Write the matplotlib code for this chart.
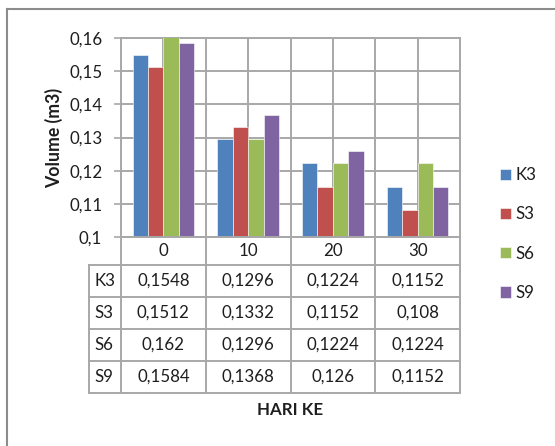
import matplotlib
matplotlib.use("Agg")
import matplotlib.pyplot as plt
from matplotlib.lines import Line2D
import numpy as np

# Data
days = ["0", "10", "20", "30"]
series_names = ["K3", "S3", "S6", "S9"]
k3 = [0.1548, 0.1296, 0.1224, 0.1152]
s3 = [0.1512, 0.1332, 0.1152, 0.108]
s6 = [0.162, 0.1296, 0.1224, 0.1224]
s9 = [0.1584, 0.1368, 0.126, 0.1152]
y_ticks = [0.10, 0.11, 0.12, 0.13, 0.14, 0.15, 0.16]

series = [k3, s3, s6, s9]
colors = ["#4F81BD", "#C0504D", "#9BBB59", "#8064A2"]
grid_c = "#A8A8A8"
txt_c = "#1E1E1E"
fs = 12.2
plt.rcParams["font.family"] = ["Lato", "DejaVu Sans"]

W, H = 555, 446
fig = plt.figure(figsize=(W / 100, H / 100), dpi=100)

def fx(px):
    return px / W

def fy(py):
    return 1 - py / H

# plot area in pixel coordinates
L, R, T, B = 121, 460, 38, 237
ax = fig.add_axes([fx(L), fy(B), fx(R - L), (B - T) / H])

n = len(series)
w = 1 / (n + 1.5)
x = np.arange(len(days))
handles = []
for i, (vals, c) in enumerate(zip(series, colors)):
    h = ax.bar(x + (i - (n - 1) / 2) * w, vals, width=w, color=c,
               edgecolor="white", linewidth=0.4, zorder=3)
    handles.append(h)

ax.set_xlim(-0.5, len(days) - 0.5)
ax.set_ylim(y_ticks[0], y_ticks[-1])
ax.set_yticks(y_ticks)
ax.set_yticklabels([("%g" % t).replace(".", ",") for t in y_ticks],
                   fontsize=fs, color=txt_c)
ax.set_xticks(np.arange(-0.5, len(days), 0.5))
ax.tick_params(axis="x", length=0, labelbottom=False)
ax.tick_params(axis="y", length=5, width=1.2, color=grid_c, pad=8.5)
ax.grid(True, color=grid_c, linewidth=1.4, zorder=0)
for s in ["top", "right", "bottom", "left"]:
    ax.spines[s].set_color(grid_c)
    ax.spines[s].set_linewidth(1.4)

fig.text(fx(54), fy(138), "Volume (m3)", rotation=90, ha="center", va="center",
         fontsize=12.7, fontweight="bold", color=txt_c)

# Data table beneath the axes
col_edges = np.linspace(L, R, len(days) + 1)
row_edges = [237, 265, 297, 329, 361, 393]
hdr_left = 89

def hline(y, x0, x1):
    fig.add_artist(Line2D([fx(x0), fx(x1)], [fy(y), fy(y)], color=grid_c, lw=1.4))

def vline(xp, y0, y1):
    fig.add_artist(Line2D([fx(xp), fx(xp)], [fy(y0), fy(y1)], color=grid_c, lw=1.4))

hline(row_edges[0], L, R)
for y in row_edges[1:]:
    hline(y, hdr_left, R)
for xp in col_edges:
    vline(xp, row_edges[0], row_edges[-1])
vline(hdr_left, row_edges[1], row_edges[-1])

for j, d in enumerate(days):
    cx = (col_edges[j] + col_edges[j + 1]) / 2
    cy = (row_edges[0] + row_edges[1]) / 2
    fig.text(fx(cx), fy(cy), d, ha="center", va="center", fontsize=fs, color=txt_c)

for i, (name, vals) in enumerate(zip(series_names, series)):
    cy = (row_edges[i + 1] + row_edges[i + 2]) / 2
    fig.text(fx(hdr_left + 5), fy(cy), name, ha="left", va="center",
             fontsize=fs, color=txt_c)
    for j, v in enumerate(vals):
        cx = (col_edges[j] + col_edges[j + 1]) / 2
        fig.text(fx(cx), fy(cy), ("%g" % v).replace(".", ","), ha="center",
                 va="center", fontsize=fs, color=txt_c)

fig.text(fx(290), fy(410), "HARI KE", ha="center", va="center",
         fontsize=fs, fontweight="bold", color=txt_c)

# Legend
fig.legend(handles, series_names, loc="upper left",
           bbox_to_anchor=(fx(485), fy(152)), frameon=False, fontsize=fs,
           handlelength=0.66, handleheight=0.66, handletextpad=0.24,
           labelspacing=1.37, labelcolor=txt_c)

# Chart frame (top and left edges)
fig.add_artist(Line2D([fx(7), fx(W)], [fy(9), fy(9)], color="#8C8C8C", lw=1.5))
fig.add_artist(Line2D([fx(7), fx(7)], [fy(9), fy(H)], color="#8C8C8C", lw=1.5))

fig.savefig("out.png", dpi=100, facecolor="white")
